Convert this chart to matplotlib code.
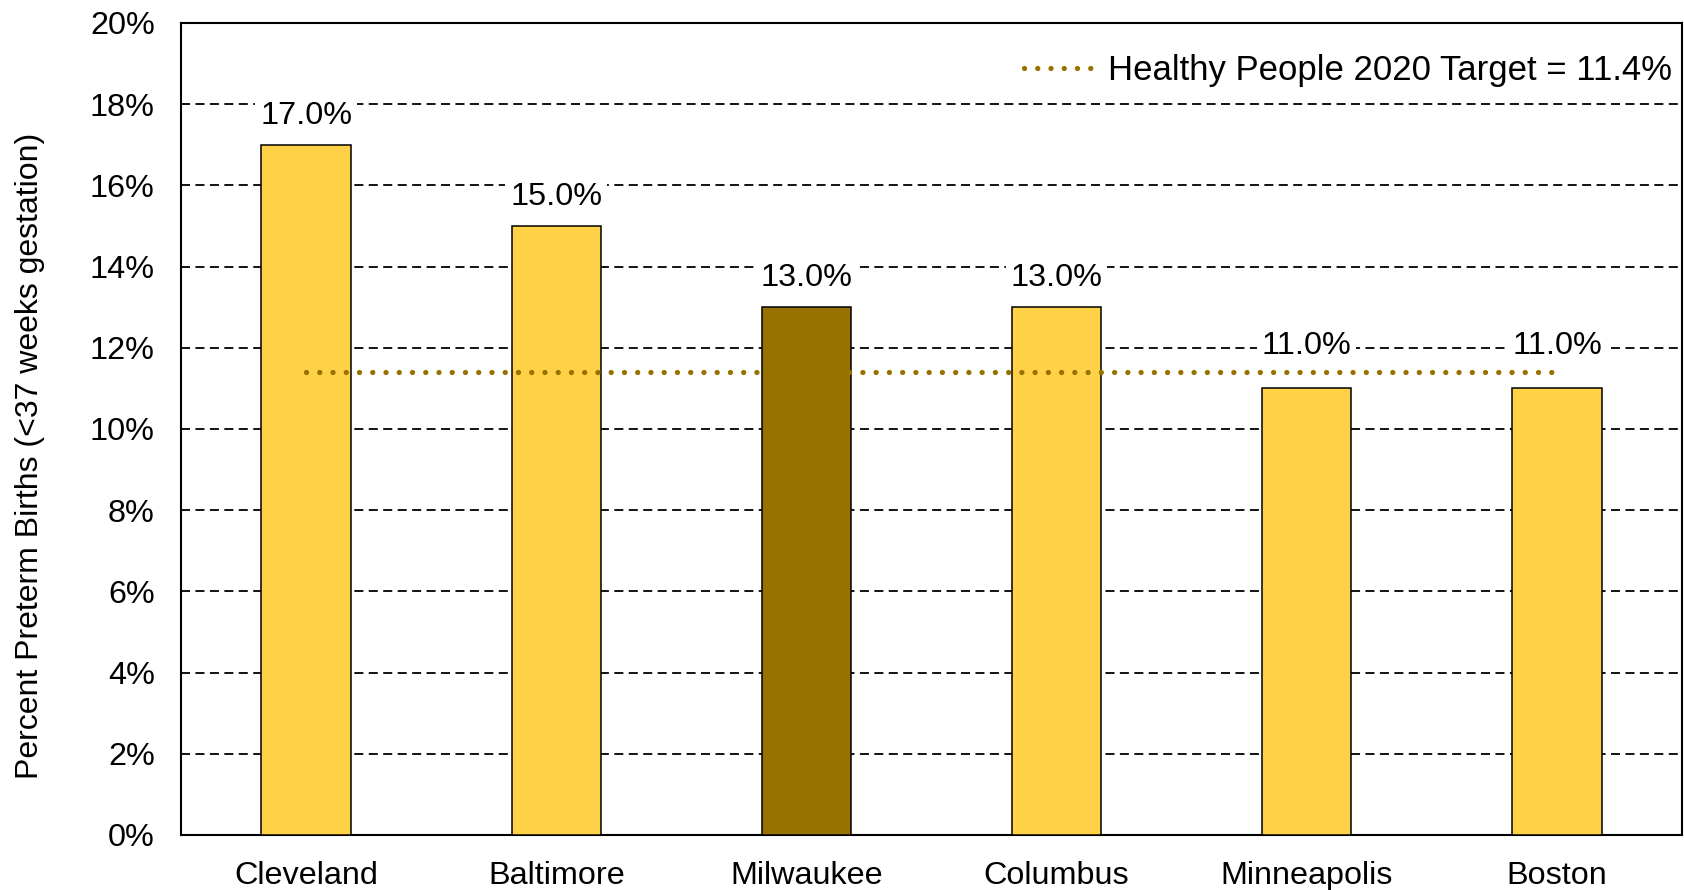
import matplotlib
matplotlib.use("Agg")
import matplotlib.pyplot as plt
from matplotlib.ticker import FuncFormatter

cities = ["Cleveland", "Baltimore", "Milwaukee", "Columbus", "Minneapolis", "Boston"]
preterm_pct = [17.0, 15.0, 13.0, 13.0, 11.0, 11.0]
highlight = "Milwaukee"
target_value = 11.4
target_label = "Healthy People 2020 Target = 11.4%"
y_label = "Percent Preterm Births (<37 weeks gestation)"

plt.rcParams['font.family'] = ['Liberation Sans', 'DejaVu Sans']

yellow = "#FFD147"
gold = "#987200"

fig = plt.figure(figsize=(16.84, 8.90), dpi=100)
ax = fig.add_axes([0.1075, 0.0618, 0.8913, 0.9124])

x = list(range(len(cities)))
colors = [gold if c == highlight else yellow for c in cities]
bars = ax.bar(x, preterm_pct, width=0.357, color=colors, edgecolor="black", linewidth=1.1, zorder=3)

ax.plot([x[0], x[-1]], [target_value, target_value], color=gold, linestyle=(0, (0.01, 2.5)),
        linewidth=3.8, dash_capstyle="round", zorder=4, label=target_label)

for xi, v in zip(x, preterm_pct):
    off = 20 if v < target_value else 10
    ax.annotate(f"{v:.1f}%", (xi, v), xytext=(0, off), textcoords="offset points",
                ha="center", va="bottom", fontsize=23.3,
                bbox=dict(boxstyle="square,pad=0.15", fc="white", ec="none"), zorder=5)

ax.set_xlim(-0.5, len(cities) - 0.5)
ax.set_ylim(0, 20)
ax.set_yticks(range(0, 21, 2))
ax.yaxis.set_major_formatter(FuncFormatter(lambda v, p: f"{v:.0f}%"))
ax.set_xticks(x)
ax.set_xticklabels(cities)
ax.tick_params(axis="y", length=0, pad=19, labelsize=23.3)
ax.tick_params(axis="x", length=0, pad=19, labelsize=23.3)

ax.yaxis.grid(True, color="black", linestyle=(0, (5, 3)), linewidth=1.3, zorder=0)
ax.set_axisbelow(True)
for s in ax.spines.values():
    s.set_linewidth(1.5)

ax.set_ylabel(y_label, fontsize=23, va="center")
ax.yaxis.set_label_coords(-0.1006, 0.467)

leg = ax.legend(loc="upper right", bbox_to_anchor=(1.0, 0.974), frameon=False, fontsize=25,
                handlelength=2.0, handletextpad=0.4, borderaxespad=0.0, borderpad=0.3)

fig.savefig("out.png", dpi=100)
